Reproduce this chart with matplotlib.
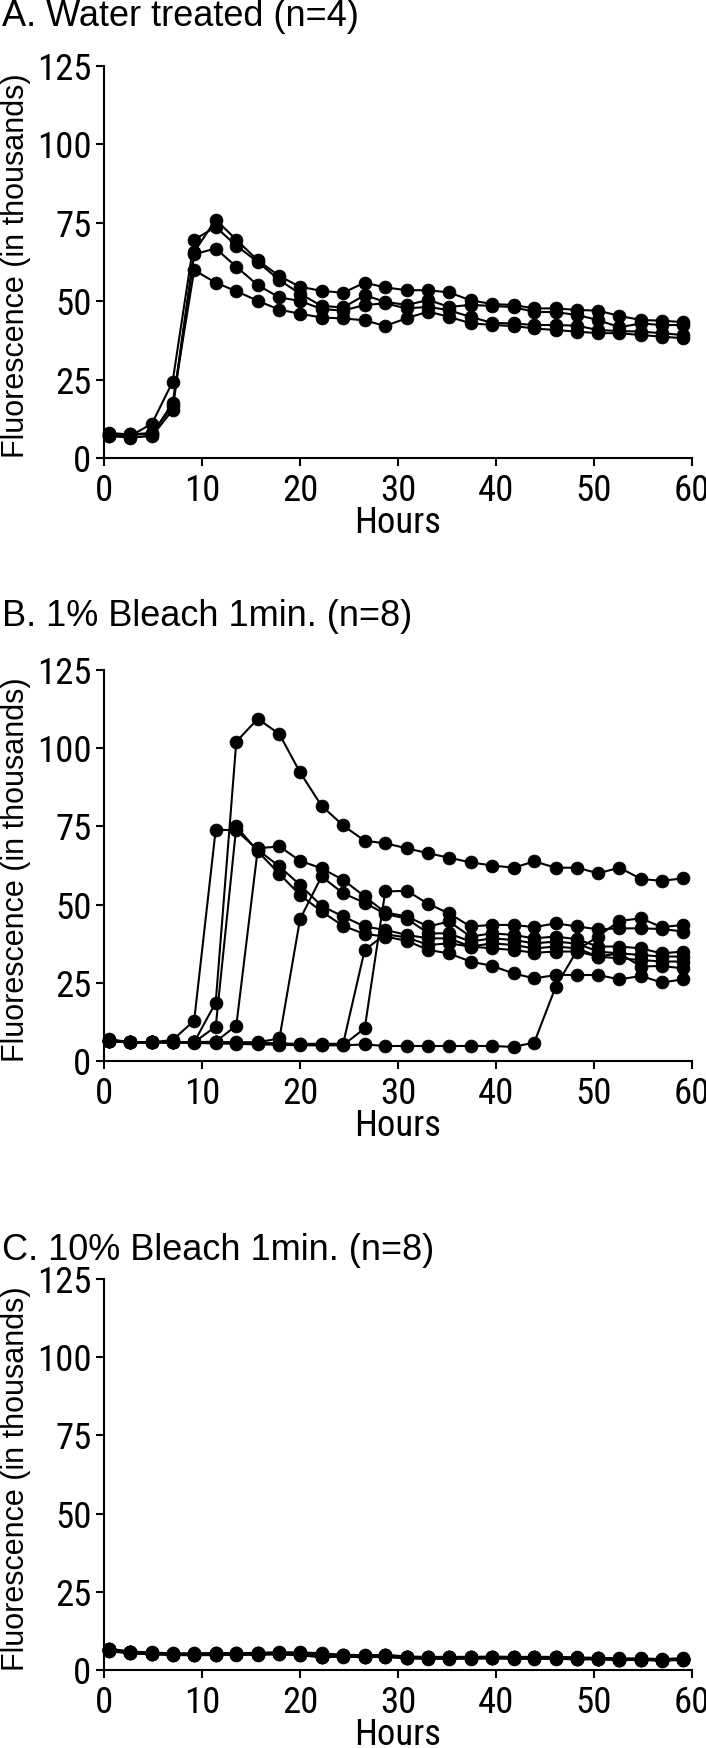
import matplotlib
matplotlib.use("Agg")
import matplotlib.pyplot as plt
from matplotlib import font_manager as fm

# sampling times (hours), same for all panels
hours = [0.5, 2.7, 4.9, 7.0, 9.2, 11.4, 13.5, 15.7, 17.9, 20.0, 22.2, 24.4, 26.6, 28.7,
         30.9, 33.1, 35.2, 37.4, 39.6, 41.8, 43.9, 46.1, 48.3, 50.4, 52.6, 54.8, 56.9, 59.1]

# A. water treated (fluorescence, thousands)
water_1 = [8.0, 7.5, 8.0, 16.5, 65.7, 76.0, 69.6, 63.0, 58.0, 54.6, 53.3, 52.7, 55.9, 54.4,
           53.5, 53.5, 52.8, 50.3, 49.1, 48.8, 47.7, 47.7, 47.2, 47.0, 45.3, 44.0, 43.8, 43.3]
water_2 = [7.5, 7.0, 11.0, 24.3, 69.6, 73.7, 67.7, 62.5, 56.7, 52.4, 48.5, 48.0, 51.9, 49.8,
           48.8, 50.4, 48.2, 48.8, 48.5, 48.1, 46.6, 46.5, 45.6, 44.0, 41.7, 42.9, 42.4, 42.4]
water_3 = [7.0, 6.5, 7.0, 15.3, 65.0, 66.8, 61.0, 55.1, 51.2, 50.1, 47.5, 47.0, 48.8, 49.3,
           47.7, 48.2, 47.1, 45.0, 43.1, 42.9, 42.4, 42.4, 42.2, 40.8, 40.5, 40.3, 39.8, 39.2]
water_4 = [7.0, 7.5, 7.5, 17.5, 59.9, 55.9, 53.2, 50.1, 47.3, 46.0, 44.8, 44.5, 43.9, 42.1,
           44.6, 46.7, 45.0, 43.0, 42.4, 42.1, 41.3, 40.8, 40.3, 39.8, 39.8, 39.2, 38.7, 38.2]

# B. 1% bleach 1 min
b1_1 = [6.5, 6.0, 6.0, 6.0, 6.0, 18.7, 102.1, 109.4, 104.5, 92.3, 81.6, 75.3, 70.4, 69.6,
        68.0, 66.4, 65.0, 63.5, 62.5, 61.8, 63.8, 61.8, 61.8, 60.0, 61.8, 58.2, 57.6, 58.4]
b1_2 = [7.0, 6.0, 6.0, 6.7, 12.9, 74.0, 73.7, 67.5, 62.2, 56.3, 49.6, 46.2, 43.0, 41.9,
        40.3, 39.2, 39.2, 36.6, 37.6, 37.1, 36.0, 36.6, 36.0, 33.4, 32.8, 32.3, 31.8, 31.8]
b1_3 = [6.5, 6.0, 6.0, 6.0, 6.0, 11.0, 75.0, 67.0, 59.8, 53.1, 47.8, 43.2, 40.6, 39.8,
        38.4, 35.5, 34.4, 31.8, 30.4, 28.0, 26.4, 27.5, 27.5, 27.5, 26.1, 27.2, 25.1, 26.1]
b1_4 = [6.5, 6.0, 6.0, 6.0, 6.0, 6.2, 11.3, 68.0, 68.6, 64.0, 61.6, 57.9, 52.6, 47.5,
        46.2, 43.0, 44.6, 39.8, 40.8, 40.3, 39.2, 39.8, 38.9, 36.6, 36.6, 36.0, 34.4, 35.0]
b1_5 = [6.5, 6.0, 6.0, 6.0, 6.0, 6.0, 6.0, 6.0, 7.2, 45.3, 59.0, 53.6, 50.6, 47.0,
        45.5, 40.8, 40.8, 38.2, 39.2, 38.7, 37.6, 38.2, 37.5, 35.0, 34.4, 33.9, 33.4, 33.4]
b1_6 = [6.5, 6.0, 6.0, 6.0, 6.0, 6.0, 5.8, 5.8, 5.6, 5.5, 5.5, 5.5, 35.5, 40.5,
        39.5, 37.1, 37.6, 36.6, 36.0, 35.5, 34.6, 35.0, 35.0, 33.4, 34.4, 30.2, 30.4, 29.6]
b1_7 = [6.5, 6.0, 6.0, 6.0, 6.0, 6.0, 5.8, 5.6, 5.5, 5.3, 5.2, 5.1, 10.4, 54.2,
        54.4, 50.2, 47.2, 43.0, 43.5, 43.5, 42.8, 44.0, 43.0, 42.1, 42.4, 42.4, 42.2, 41.4]
b1_8 = [6.5, 6.0, 6.0, 6.0, 5.8, 5.6, 5.5, 5.3, 5.2, 5.0, 5.0, 5.0, 5.3, 4.8,
        4.8, 4.8, 4.8, 4.8, 4.8, 4.5, 5.9, 23.8, 35.5, 39.8, 44.8, 45.6, 42.8, 43.5]

# C. 10% bleach 1 min
b10_1 = [6.8, 5.9, 5.6, 5.3, 5.3, 5.4, 5.4, 5.5, 5.7, 5.5, 4.7, 4.9, 4.7, 4.9,
         4.3, 4.2, 4.2, 4.2, 4.3, 4.2, 4.2, 4.2, 4.0, 3.9, 3.7, 3.7, 3.5, 3.8]
b10_2 = [6.4, 5.6, 5.3, 5.0, 5.0, 5.1, 5.1, 5.2, 5.4, 5.2, 4.4, 4.6, 4.4, 4.6,
         4.0, 3.9, 3.9, 3.9, 4.0, 3.9, 3.9, 3.9, 3.7, 3.6, 3.4, 3.4, 3.2, 3.5]
b10_3 = [6.2, 5.4, 5.1, 4.9, 4.8, 4.9, 5.0, 5.0, 5.1, 4.8, 4.2, 4.4, 4.2, 4.3,
         3.8, 3.7, 3.7, 3.8, 3.8, 3.7, 3.7, 3.7, 3.5, 3.5, 3.3, 3.3, 3.1, 3.3]
b10_4 = [6.6, 5.8, 5.5, 5.2, 5.2, 5.3, 5.2, 5.3, 5.5, 5.6, 5.4, 4.8, 4.6, 4.7,
         4.1, 4.0, 4.1, 4.0, 4.1, 4.0, 4.0, 4.1, 3.8, 3.8, 3.5, 3.6, 3.3, 3.6]
b10_5 = [6.0, 5.3, 5.0, 4.8, 4.7, 4.8, 4.8, 4.9, 5.0, 4.7, 4.1, 4.3, 4.1, 4.2,
         3.7, 3.6, 3.6, 3.6, 3.7, 3.6, 3.6, 3.6, 3.4, 3.4, 3.2, 3.2, 3.0, 3.2]
b10_6 = [6.7, 5.7, 5.4, 5.1, 5.1, 5.2, 5.3, 5.3, 5.5, 5.3, 4.5, 4.7, 4.5, 4.7,
         4.1, 4.0, 4.0, 4.0, 4.1, 4.0, 4.0, 4.0, 3.8, 3.7, 3.5, 3.5, 3.3, 3.6]
b10_7 = [6.3, 5.5, 5.2, 5.0, 4.9, 5.0, 5.0, 5.1, 5.3, 5.0, 4.3, 4.5, 4.3, 4.5,
         3.9, 3.8, 3.8, 3.9, 3.9, 3.8, 3.8, 3.8, 3.6, 3.6, 3.3, 3.3, 3.1, 3.4]
b10_8 = [6.5, 5.6, 5.4, 5.1, 5.0, 5.1, 5.2, 5.2, 5.4, 5.1, 4.4, 4.5, 4.4, 4.5,
         4.0, 3.8, 3.9, 3.9, 3.9, 3.9, 3.8, 3.9, 3.7, 3.6, 3.4, 3.4, 3.2, 3.4]

panels = [
    ("A. Water treated (n=4)", [water_1, water_2, water_3, water_4]),
    ("B. 1% Bleach 1min. (n=8)", [b1_1, b1_2, b1_3, b1_4, b1_5, b1_6, b1_7, b1_8]),
    ("C. 10% Bleach 1min. (n=8)", [b10_1, b10_2, b10_3, b10_4, b10_5, b10_6, b10_7, b10_8]),
]

# tick labels in the original are a narrow sans; take a condensed face if one is installed
def narrow_font():
    prefs = ["Liberation Sans Narrow", "Arial Narrow", "Roboto Condensed",
             "Noto Sans", "DejaVu Sans", "Open Sans", "Roboto", "Lato", "Inter"]
    cands = [f for f in fm.fontManager.ttflist
             if (f.stretch in ("condensed", "semi-condensed", "extra-condensed")
                 or "Narrow" in f.name or "Condensed" in f.name)
             and f.style == "normal" and f.weight in (400, "normal", "regular")]
    for p in prefs:
        for f in cands:
            if f.name.startswith(p):
                return f.fname
    return cands[0].fname if cands else None

nfile = narrow_font()
if nfile:
    tick_fp = fm.FontProperties(fname=nfile, size=26.5)
else:
    tick_fp = fm.FontProperties(family=["Liberation Sans", "DejaVu Sans"], size=21)

regular = ["Liberation Sans", "DejaVu Sans"]

W, H = 706, 1748
fig = plt.figure(figsize=(W / 100, H / 100), dpi=100)

# pixel layout of each panel: (axes top, axes bottom, title centre)
rows = [(66, 458, 16), (670, 1061, 616), (1279, 1670, 1250)]
x_left, x_right = 104, 692

for (title, series), (top, bot, ty) in zip(panels, rows):
    ax = fig.add_axes([x_left / W, 1 - bot / H, (x_right - x_left) / W, (bot - top) / H])
    for vals in series:
        ax.plot(hours, vals, "-o", color="black", lw=1.5, ms=9.2,
                mec="black", mew=0.6, clip_on=False)
    ax.set_xlim(0, 60)
    ax.set_ylim(0, 125)
    ax.set_xticks([0, 10, 20, 30, 40, 50, 60])
    ax.set_yticks([0, 25, 50, 75, 100, 125])
    for s in ("top", "right"):
        ax.spines[s].set_visible(False)
    for s in ("left", "bottom"):
        ax.spines[s].set_linewidth(1.5)
    ax.tick_params(direction="out", length=6, width=1.5)
    ax.tick_params(axis="x", pad=5)
    ax.tick_params(axis="y", pad=3)
    for lab in ax.get_xticklabels() + ax.get_yticklabels():
        lab.set_fontproperties(tick_fp)
    ax.set_xlabel("Hours", fontproperties=tick_fp, labelpad=-3)
    ax.set_ylabel("Fluorescence (in thousands)", fontsize=22, family=regular)
    ax.yaxis.set_label_coords(-0.124, 0.49)
    fig.text(2 / W, 1 - ty / H, title, fontsize=26, family=regular,
             ha="left", va="center")

fig.savefig("out.png", dpi=100)
